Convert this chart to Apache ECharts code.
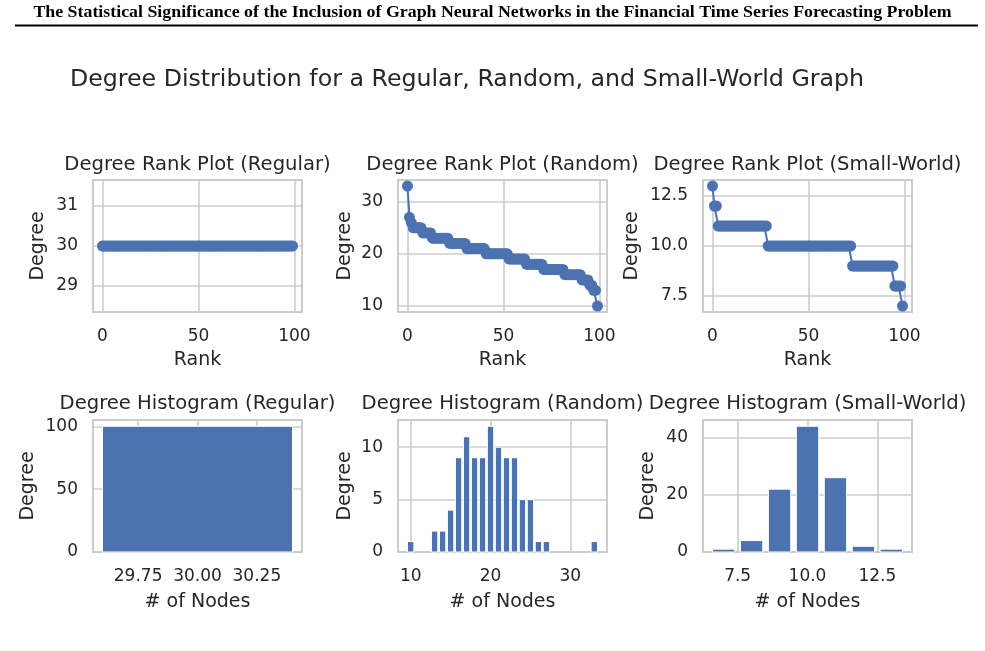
<!DOCTYPE html>
<html><head><meta charset="utf-8">
<script src="https://cdn.jsdelivr.net/npm/echarts@6/dist/echarts.min.js"></script>
<style>html,body{margin:0;padding:0;background:#fff}#c{width:985px;height:651px}</style>
</head><body><div id="c"></div>
<script>
// ---- texts ----
const headerText = "The Statistical Significance of the Inclusion of Graph Neural Networks in the Financial Time Series Forecasting Problem";
const mainTitle = "Degree Distribution for a Regular, Random, and Small-World Graph";
const rankTitles = ["Degree Rank Plot (Regular)", "Degree Rank Plot (Random)", "Degree Rank Plot (Small-World)"];
const histTitles = ["Degree Histogram (Regular)", "Degree Histogram (Random)", "Degree Histogram (Small-World)"];
const rankXName = "Rank";
const histXName = "# of Nodes";
const yName = "Degree";

// ---- data: degree values and node counts ----
const regularDegrees = [30];
const regularCounts = [100];
const randomDegrees = [10, 13, 14, 15, 16, 17, 18, 19, 20, 21, 22, 23, 24, 25, 26, 27, 33];
const randomCounts = [1, 2, 2, 4, 9, 11, 9, 9, 12, 10, 9, 9, 5, 5, 1, 1, 1];
const smallWorldDegrees = [7, 8, 9, 10, 11, 12, 13];
const smallWorldCounts = [1, 4, 22, 44, 26, 2, 1];

// ---- axis tick values ----
const rankXTicks = [0, 50, 100];
const rankYTicks = [[29, 30, 31], [10, 20, 30], [7.5, 10.0, 12.5]];
const rankYDecimals = [0, 0, 1];
const histXTicks = [[29.75, 30.00, 30.25], [10, 20, 30], [7.5, 10.0, 12.5]];
const histXDecimals = [2, 0, 1];
const histYTicks = [[0, 50, 100], [0, 5, 10], [0, 20, 40]];

// degree sequence sorted descending (rank plot) from counts
function degreeSequence(degs, counts) {
  const seq = [];
  for (let i = degs.length - 1; i >= 0; i--) for (let k = 0; k < counts[i]; k++) seq.push(degs[i]);
  return seq.map((d, r) => [r, d]);
}
const sets = [
  [regularDegrees, regularCounts],
  [randomDegrees, randomCounts],
  [smallWorldDegrees, smallWorldCounts]
];

const BLUE = '#4C72B0', TXT = '#262626', GRIDC = '#cccccc', FONT = 'DejaVu Sans';
const BAR_W = 0.8;
const colLeft = [93, 398, 703], W = 209, H = 132, rowTop = [180, 420];
const rankYNameGap = [45, 43, 61], histYNameGap = [55, 43, 45];

function pad(lo, hi) { const s = hi - lo; return [lo - 0.05 * s, hi + 0.05 * s]; }

const grids = [], xAxes = [], yAxes = [], series = [], graphics = [];
const nameStyle = { color: TXT, fontSize: 19, fontFamily: FONT };
function axis(gi, min, max, ticks, dec, margin, name, nameGap) {
  return {
    type: 'value', gridIndex: gi, min, max,
    axisLine: { show: false },
    axisTick: { show: false, customValues: ticks },
    splitLine: { show: true, lineStyle: { color: GRIDC, width: 1.6 } },
    axisLabel: { customValues: ticks, color: TXT, fontSize: 17, fontFamily: FONT, margin,
      formatter: v => Number(v).toFixed(dec) },
    name, nameLocation: 'middle', nameGap, nameTextStyle: nameStyle, nameMoveOverlap: false
  };
}

for (let c = 0; c < 3; c++) {
  const [degs, counts] = sets[c];
  const seq = degreeSequence(degs, counts);
  // ---- rank plot ----
  const gi = grids.length;
  grids.push({ left: colLeft[c], top: rowTop[0], width: W, height: H, show: true, borderColor: GRIDC, borderWidth: 2, backgroundColor: '#fff', containLabel: false });
  const yMin = Math.min(...degs), yMax = Math.max(...degs);
  const yr = yMin === yMax ? pad(yMin * 0.95, yMax * 1.05) : pad(yMin, yMax);
  const xr = pad(0, seq.length - 1);
  xAxes.push(axis(gi, xr[0], xr[1], rankXTicks, 0, 16, rankXName, 39));
  yAxes.push(axis(gi, yr[0], yr[1], rankYTicks[c], rankYDecimals[c], 15, yName, rankYNameGap[c]));
  series.push({ type: 'line', xAxisIndex: gi, yAxisIndex: gi, data: seq, symbol: 'circle', symbolSize: 11,
    itemStyle: { color: BLUE }, lineStyle: { color: BLUE, width: 2 }, animation: false, silent: true });

  // ---- histogram ----
  const hi = grids.length;
  grids.push({ left: colLeft[c], top: rowTop[1], width: W, height: H, show: true, borderColor: GRIDC, borderWidth: 2, backgroundColor: '#fff', containLabel: false });
  const hxr = pad(Math.min(...degs) - BAR_W / 2, Math.max(...degs) + BAR_W / 2);
  const hyMax = Math.max(...counts) * 1.05;
  xAxes.push(axis(hi, hxr[0], hxr[1], histXTicks[c], histXDecimals[c], 16, histXName, 41));
  yAxes.push(axis(hi, 0, hyMax, histYTicks[c], 0, 15, yName, histYNameGap[c]));
  series.push({ type: 'custom', xAxisIndex: hi, yAxisIndex: hi, data: degs.map((d, i) => [d, counts[i]]),
    animation: false, silent: true,
    renderItem: (params, api) => {
      const x = api.value(0), y = api.value(1);
      const p0 = api.coord([x - BAR_W / 2, y]);
      const p1 = api.coord([x + BAR_W / 2, 0]);
      return { type: 'rect', shape: { x: p0[0], y: p0[1], width: p1[0] - p0[0], height: p1[1] - p0[1] },
        style: { fill: BLUE, stroke: '#ffffff', lineWidth: 1 } };
    } });

  graphics.push({ type: 'text', x: colLeft[c] + W / 2, y: 165, style: { text: rankTitles[c], fill: TXT, font: '19.6px "DejaVu Sans"', align: 'center', verticalAlign: 'middle' } });
  graphics.push({ type: 'text', x: colLeft[c] + W / 2, y: 404, style: { text: histTitles[c], fill: TXT, font: '19.6px "DejaVu Sans"', align: 'center', verticalAlign: 'middle' } });
}

graphics.push({ type: 'text', x: 492.5, y: 13, scaleX: 1.05, style: { text: headerText, fill: '#000', font: 'bold 17px "Liberation Serif"', align: 'center', verticalAlign: 'middle' } });
graphics.push({ type: 'line', shape: { x1: 15, y1: 25.5, x2: 978, y2: 25.5 }, style: { stroke: '#000', lineWidth: 2 } });
graphics.push({ type: 'text', x: 467, y: 80, style: { text: mainTitle, fill: TXT, font: '23.7px "DejaVu Sans"', align: 'center', verticalAlign: 'middle' } });

const chart = echarts.init(document.getElementById('c'), null, { renderer: 'canvas' });
chart.setOption({ backgroundColor: '#fff', animation: false, grid: grids, xAxis: xAxes, yAxis: yAxes, series, graphic: graphics });
</script></body></html>
